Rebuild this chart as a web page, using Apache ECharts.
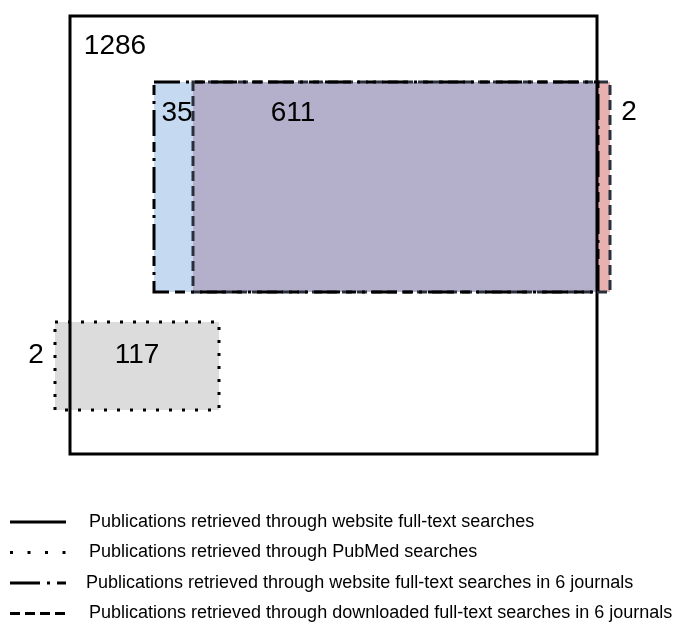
<!DOCTYPE html>
<html>
<head>
<meta charset="utf-8">
<script src="https://cdn.jsdelivr.net/npm/echarts@6/dist/echarts.min.js"></script>
<style>html,body{margin:0;padding:0;background:#fff}#c{width:676px;height:643px}</style>
</head>
<body>
<div id="c"></div>
<script>
// Sets: extents in diagram units [x0, y0, x1, y1]
var setNames = [
  'Publications retrieved through website full-text searches',
  'Publications retrieved through PubMed searches',
  'Publications retrieved through website full-text searches in 6 journals',
  'Publications retrieved through downloaded full-text searches in 6 journals'
];
var setExtents = [
  [70, 16, 597, 454],
  [55, 322, 219, 410],
  [154, 82, 598, 292],
  [193, 82, 610, 292]
];
// Filled regions (intersections) [x0, y0, x1, y1]
var regionExtents = [
  [55, 322, 219, 410],
  [154, 82, 193, 292],
  [193, 82, 598, 292],
  [598, 82, 610, 292]
];
var regionNames = ['PubMed', 'Journals website only', 'Journals website & downloaded', 'Downloaded only'];
// Counts and label anchors
var countValues = [1286, 35, 611, 2, 2, 117];
var countAnchors = [[115, 46], [177, 113], [293, 113], [629, 112], [36, 355], [137, 355]];

var regionColors = ['#dcdcdc', '#c5d9f1', '#b4b0cc', '#e6b1b0'];
var setDash = ['solid', [3, 10], [26, 6, 3, 6, 10, 6], [10, 5]];
var setColor = ['#000', '#000', '#000', '#2a2f3c'];
var drawOrder = [0, 1, 3, 2];

var chart = echarts.init(document.getElementById('c'));
chart.setOption({
  animation: false,
  grid: {left: 0, right: 0, top: 0, bottom: 0},
  xAxis: {type: 'value', min: 0, max: 676, show: false},
  yAxis: {type: 'value', min: 0, max: 643, inverse: true, show: false},
  series: [
    {
      type: 'custom', name: 'regions', z: 1,
      data: regionExtents.map(function (e, i) { return e.concat([i]); }),
      renderItem: function (params, api) {
        var p0 = api.coord([api.value(0), api.value(1)]);
        var p1 = api.coord([api.value(2), api.value(3)]);
        return {type: 'rect', shape: {x: p0[0], y: p0[1], width: p1[0] - p0[0], height: p1[1] - p0[1]},
          style: {fill: regionColors[api.value(4)]}};
      }
    },
    {
      type: 'custom', name: 'sets', z: 2,
      data: drawOrder.map(function (i) { return setExtents[i].concat([i]); }),
      renderItem: function (params, api) {
        var i = api.value(4);
        var p0 = api.coord([api.value(0), api.value(1)]);
        var p1 = api.coord([api.value(2), api.value(3)]);
        return {type: 'rect', shape: {x: p0[0], y: p0[1], width: p1[0] - p0[0], height: p1[1] - p0[1]},
          style: {fill: null, stroke: setColor[i], lineWidth: 3, lineDash: setDash[i] === 'solid' ? null : setDash[i], lineCap: 'butt'}};
      }
    },
    {
      type: 'custom', name: 'counts', z: 3,
      data: countValues.map(function (v, i) { return [countAnchors[i][0], countAnchors[i][1], v]; }),
      renderItem: function (params, api) {
        var p = api.coord([api.value(0), api.value(1)]);
        return {type: 'text', x: p[0], y: p[1],
          style: {text: String(api.value(2)), fill: '#000', font: '28px "Liberation Sans", Arial, sans-serif', align: 'center', verticalAlign: 'middle'}};
      }
    },
    {
      type: 'custom', name: 'legend', z: 3,
      data: setNames.map(function (n, i) { return [i]; }),
      renderItem: function (params, api) {
        var i = api.value(0);
        var y = 522 + i * 30.5;
        var a = api.coord([10, y]), b = api.coord([66, y]), t = api.coord([i === 2 ? 86 : 89, y]);
        return {type: 'group', children: [
          {type: 'line', shape: {x1: a[0], y1: a[1], x2: b[0], y2: b[1]},
            style: {stroke: '#000', lineWidth: 3, lineDash: i === 0 ? null : (i === 1 ? [3, 14.5] : (i === 2 ? [30, 7, 3, 7, 12, 6] : [10, 5])), lineCap: 'butt'}},
          {type: 'text', x: t[0], y: t[1],
            style: {text: setNames[i], fill: '#000', font: '18px "Liberation Sans", Arial, sans-serif', align: 'left', verticalAlign: 'middle'}}
        ]};
      }
    }
  ]
});
</script>
</body>
</html>
